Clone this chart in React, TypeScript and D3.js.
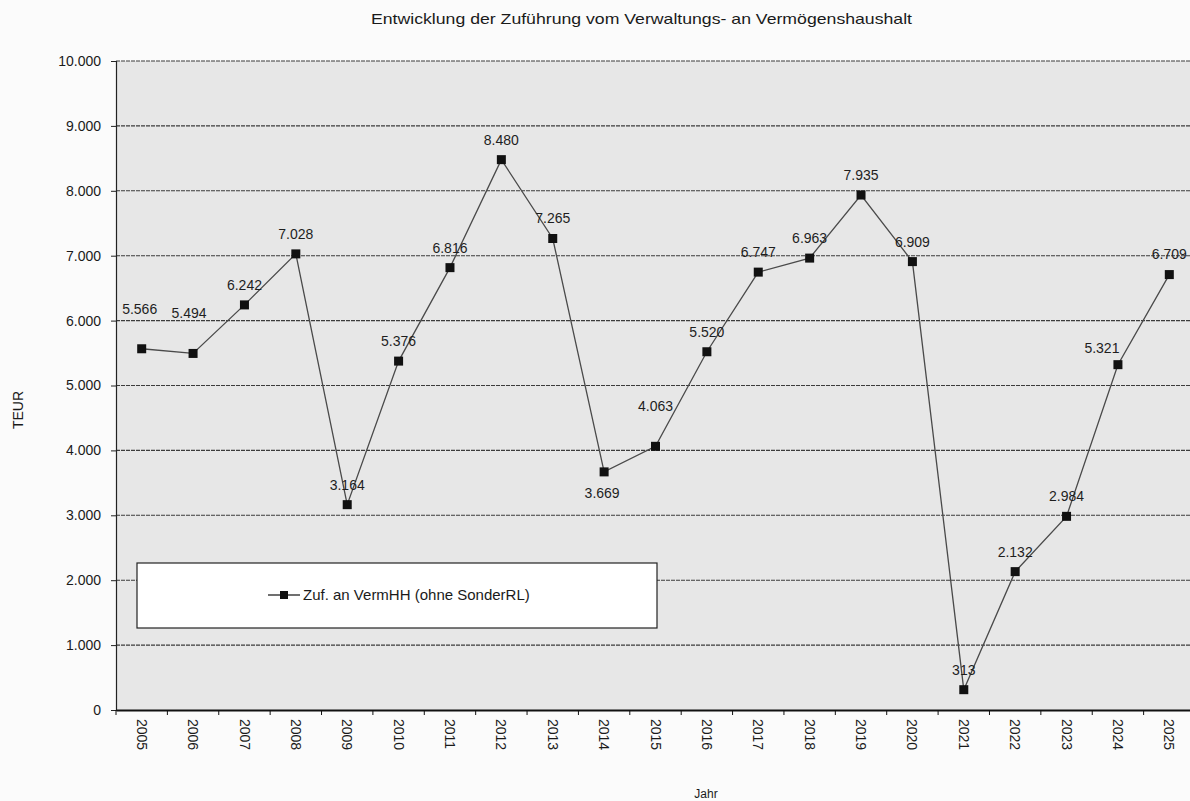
import { useEffect, useRef } from "react";
import * as d3 from "d3";

const years = [
  "2005", "2006", "2007", "2008", "2009", "2010", "2011", "2012", "2013", "2014", "2015",
  "2016", "2017", "2018", "2019", "2020", "2021", "2022", "2023", "2024", "2025",
];
const zufuehrung = [
  5566, 5494, 6242, 7028, 3164, 5376, 6816, 8480, 7265, 3669, 4063,
  5520, 6747, 6963, 7935, 6909, 313, 2132, 2984, 5321, 6709,
];
const yTicks = [0, 1000, 2000, 3000, 4000, 5000, 6000, 7000, 8000, 9000, 10000];
const seriesName = "Zuf. an VermHH (ohne SonderRL)";
const title = "Entwicklung der Zuführung vom Verwaltungs- an Vermögenshaushalt";

// label placement tweaks (dx, dy from the point), default is above
const labelShift: Record<string, [number, number]> = {
  "2005": [-2, -40],
  "2006": [-4, -40],
  "2015": [0, -40],
  "2014": [-2, 21],
  "2024": [-16, -17],
};

const fmt = (v: number) => (v >= 1000 ? d3.format(",")(v).replace(/,/g, ".") : String(v));

const App = () => {
  const svgRef = useRef<SVGSVGElement>(null);

  useEffect(() => {
    const width = 1190;
    const height = 801;
    const margin = { top: 61, right: -5, bottom: 91, left: 116 };
    const font = "Arial, 'Liberation Sans', sans-serif";

    const svg = d3.select(svgRef.current);
    svg.selectAll("*").remove();
    svg.attr("width", width).attr("height", height).attr("viewBox", `0 0 ${width} ${height}`);

    svg.append("rect").attr("width", width).attr("height", height).attr("fill", "#fbfbfb");

    const x = d3.scaleBand()
      .domain(years)
      .range([margin.left, width - margin.right]);

    const y = d3.scaleLinear()
      .domain([0, 10000])
      .range([height - margin.bottom, margin.top]);

    // plot area
    svg.append("rect")
      .attr("x", margin.left)
      .attr("y", margin.top)
      .attr("width", width - margin.right - margin.left)
      .attr("height", y(0) - margin.top)
      .attr("fill", "#e7e7e7");

    // title
    svg.append("text")
      .attr("x", 371)
      .attr("y", 24)
      .attr("textLength", 541)
      .attr("lengthAdjust", "spacingAndGlyphs")
      .style("font-family", font)
      .style("font-size", "15px")
      .attr("fill", "#1a1a1a")
      .text(title);

    // gridlines
    svg.append("g")
      .selectAll("line")
      .data(yTicks.filter(d => d > 0))
      .join("line")
      .attr("x1", margin.left)
      .attr("x2", width - margin.right)
      .attr("y1", d => y(d))
      .attr("y2", d => y(d))
      .attr("stroke", "#3c3c3c")
      .attr("stroke-width", 1.1)
      .attr("stroke-dasharray", "4,1");

    // Y axis
    const yAxis = svg.append("g")
      .attr("transform", `translate(${margin.left},0)`)
      .call(d3.axisLeft(y).tickValues(yTicks).tickSize(5).tickPadding(10).tickFormat(d => fmt(+d)));
    yAxis.select(".domain").attr("stroke", "#222").attr("stroke-width", 1.2);
    yAxis.selectAll(".tick line").attr("stroke", "#222");
    yAxis.selectAll("text")
      .style("font-family", font)
      .style("font-size", "14px")
      .attr("fill", "#1a1a1a");

    // X axis
    const xAxis = svg.append("g")
      .attr("transform", `translate(0,${y(0)})`)
      .call(d3.axisBottom(x).tickSize(0).tickSizeOuter(0));
    xAxis.select(".domain").attr("stroke", "#111").attr("stroke-width", 2);
    xAxis.selectAll(".tick text")
      .attr("transform", "rotate(90)")
      .attr("x", 9)
      .attr("y", 0)
      .attr("dy", "0.35em")
      .style("text-anchor", "start")
      .style("font-family", font)
      .style("font-size", "14px")
      .attr("fill", "#1a1a1a");

    // tick marks between categories
    svg.append("g")
      .selectAll("line")
      .data(years)
      .join("line")
      .attr("x1", d => x(d)!)
      .attr("x2", d => x(d)!)
      .attr("y1", y(0))
      .attr("y2", y(0) + 5)
      .attr("stroke", "#111");

    // axis titles
    svg.append("text")
      .attr("transform", `translate(23,410) rotate(-90)`)
      .attr("text-anchor", "middle")
      .style("font-family", font)
      .style("font-size", "14px")
      .attr("fill", "#1a1a1a")
      .text("TEUR");

    svg.append("text")
      .attr("x", 706)
      .attr("y", 798)
      .attr("text-anchor", "middle")
      .style("font-family", font)
      .style("font-size", "12px")
      .attr("fill", "#1a1a1a")
      .text("Jahr");

    const cx = (d: string) => x(d)! + x.bandwidth() / 2;
    const points = years.map((yr, i) => ({ yr, v: zufuehrung[i] }));

    // line
    const line = d3.line<{ yr: string; v: number }>()
      .x(d => cx(d.yr))
      .y(d => y(d.v));

    svg.append("path")
      .datum(points)
      .attr("d", line)
      .attr("fill", "none")
      .attr("stroke", "#4a4a4a")
      .attr("stroke-width", 1.3);

    // markers
    svg.append("g")
      .selectAll("rect")
      .data(points)
      .join("rect")
      .attr("x", d => cx(d.yr) - 4.5)
      .attr("y", d => y(d.v) - 4.5)
      .attr("width", 9)
      .attr("height", 9)
      .attr("fill", "#111");

    // data labels
    svg.append("g")
      .selectAll("text")
      .data(points)
      .join("text")
      .attr("x", d => cx(d.yr) + (labelShift[d.yr]?.[0] ?? 0))
      .attr("y", d => y(d.v) + (labelShift[d.yr]?.[1] ?? -20))
      .attr("dy", "0.35em")
      .attr("text-anchor", "middle")
      .style("font-family", font)
      .style("font-size", "14px")
      .attr("fill", "#1e1e1e")
      .text(d => fmt(d.v));

    // legend
    const lg = svg.append("g");
    lg.append("rect")
      .attr("x", 137)
      .attr("y", 563)
      .attr("width", 520)
      .attr("height", 65)
      .attr("fill", "#ffffff")
      .attr("stroke", "#222")
      .attr("stroke-width", 1.2);
    lg.append("line")
      .attr("x1", 268)
      .attr("x2", 300)
      .attr("y1", 595)
      .attr("y2", 595)
      .attr("stroke", "#222")
      .attr("stroke-width", 1.3);
    lg.append("rect")
      .attr("x", 280)
      .attr("y", 591)
      .attr("width", 8)
      .attr("height", 8)
      .attr("fill", "#111");
    lg.append("text")
      .attr("x", 303)
      .attr("y", 595)
      .attr("dy", "0.35em")
      .style("font-family", font)
      .style("font-size", "15px")
      .attr("fill", "#1a1a1a")
      .text(seriesName);

    return () => {
      svg.selectAll("*").remove();
    };
  }, []);

  return (
    <div style={{ position: "absolute", left: 0, top: 0 }}>
      <svg ref={svgRef} style={{ display: "block" }}></svg>
    </div>
  );
};

export default App;
